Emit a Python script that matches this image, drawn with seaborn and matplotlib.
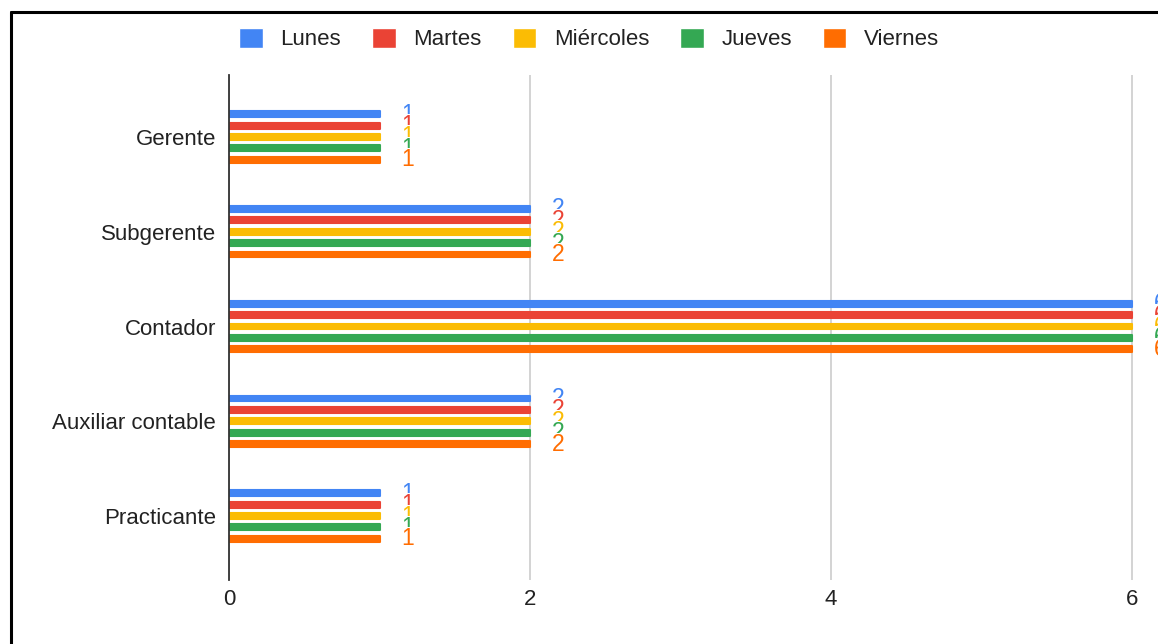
import matplotlib.pyplot as plt
import matplotlib.lines as mlines
import pandas as pd
import seaborn as sns

puestos = ["Gerente", "Subgerente", "Contador", "Auxiliar contable", "Practicante"]
dias = ["Lunes", "Martes", "Miércoles", "Jueves", "Viernes"]
lunes = [1, 2, 6, 2, 1]
martes = [1, 2, 6, 2, 1]
miercoles = [1, 2, 6, 2, 1]
jueves = [1, 2, 6, 2, 1]
viernes = [1, 2, 6, 2, 1]
colores = ["#4285F4", "#EA4335", "#FBBC04", "#34A853", "#FF6D01"]

series = [lunes, martes, miercoles, jueves, viernes]
df = pd.DataFrame(
    [(p, d, v) for d, vals in zip(dias, series) for p, v in zip(puestos, vals)],
    columns=["puesto", "dia", "valor"],
)

sns.set_style("white")
plt.rcParams["font.family"] = ["Liberation Sans", "DejaVu Sans"]
texto = "#222222"

fig = plt.figure(figsize=(11.58, 6.44), dpi=100)
ax = fig.add_axes([229 / 1158, 64 / 644, 929 / 1158, 505 / 644])

sns.barplot(data=df, x="valor", y="puesto", hue="dia", palette=colores,
            orient="h", width=0.6, gap=0.48, saturation=1, errorbar=None, ax=ax)

# rounded bar ends
for bar in ax.patches:
    bar.set_edgecolor(bar.get_facecolor())
    bar.set_linewidth(1.5)
    bar.set_joinstyle("round")

# labels overlap like in the original; each white box hides the one above
for c in ax.containers:
    ax.bar_label(c, padding=16, fontsize=16.5, color=c.patches[0].get_facecolor(),
                 bbox=dict(boxstyle="square,pad=0", fc="white", ec="none"))

ax.set_xlim(0, 929 / 150.5)
ax.set_ylim(4.675, -0.654)
ax.set_xticks([0, 2, 4, 6])
ax.set_xlabel("")
ax.set_ylabel("")
ax.grid(axis="x", color="#cccccc", linewidth=1.2)
ax.set_axisbelow(True)
for s in ["top", "right", "bottom"]:
    ax.spines[s].set_visible(False)
ax.spines["left"].set_color("#333333")
ax.spines["left"].set_linewidth(1.3)
ax.spines["left"].set_zorder(5)
ax.tick_params(axis="x", length=0, pad=6.5, labelsize=16, labelcolor=texto)
ax.tick_params(axis="y", length=0, pad=9.4, labelsize=16, labelcolor=texto)

sns.move_legend(ax, "center", bbox_to_anchor=(0.509, 1 - 39 / 644),
                bbox_transform=fig.transFigure, ncol=5, frameon=False, title=None,
                fontsize=16, handlelength=1.05, handleheight=1.05,
                handletextpad=0.8, columnspacing=1.4)
for t in ax.get_legend().get_texts():
    t.set_color(texto)

# screenshot frame
y_top = 1 - 12 / 644
x_left = 11 / 1158
fig.add_artist(mlines.Line2D([x_left, 1], [y_top, y_top], color="black", lw=2.2))
fig.add_artist(mlines.Line2D([x_left, x_left], [0, y_top], color="black", lw=2.2))

fig.savefig("out.png", dpi=100)
